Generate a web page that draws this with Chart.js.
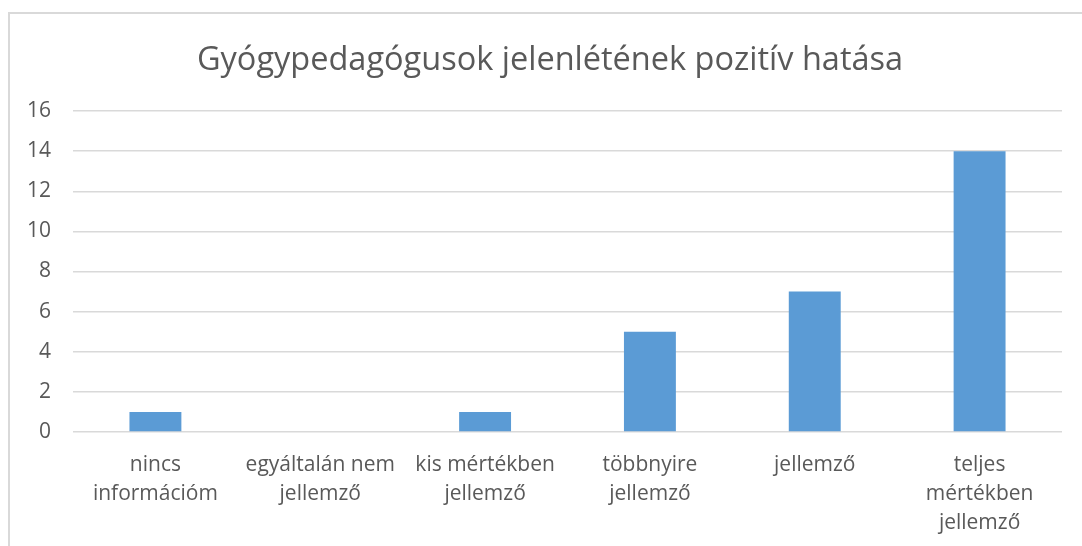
<!DOCTYPE html>
<html>
<head>
<meta charset="utf-8">
<script src="https://cdn.jsdelivr.net/npm/chart.js@4/dist/chart.umd.min.js"></script>
<style>
html,body{margin:0;padding:0;background:#fff;overflow:hidden;}
#frame{position:absolute;left:8px;top:12px;width:1200px;height:700px;border:2px solid #d9d9d9;box-sizing:border-box;}
#wrap{position:absolute;left:0;top:0;width:1082px;height:546px;}
</style>
</head>
<body>
<div id="frame"></div>
<div id="wrap"><canvas id="c" width="1082" height="546"></canvas></div>
<script>
const titleText = "Gyógypedagógusok jelenlétének pozitív hatása";
const categories = [
  ["nincs", "információm"],
  ["egyáltalán nem", "jellemző"],
  ["kis mértékben", "jellemző"],
  ["többnyire", "jellemző"],
  "jellemző",
  ["teljes", "mértékben", "jellemző"]
];
const values = [1, 0, 1, 5, 7, 14];
const yTicks = [0, 2, 4, 6, 8, 10, 12, 14, 16];

const FONT = "'Open Sans', 'Liberation Sans', sans-serif";
const shiftTitle = {
  id: 'shiftTitle',
  afterLayout(chart) {
    const t = chart.titleBlock;
    if (t) { t.left = 38; t.right = 1062; t.width = t.right - t.left; }
  }
};
new Chart(document.getElementById('c'), {
  type: 'bar',
  data: {
    labels: categories,
    datasets: [{
      data: values,
      backgroundColor: '#5B9BD5',
      borderWidth: 0,
      categoryPercentage: 1,
      barPercentage: 0.315
    }]
  },
  plugins: [shiftTitle],
  options: {
    responsive: false,
    animation: false,
    layout: { padding: { left: 0, right: 20, top: 0, bottom: 0 } },
    plugins: {
      legend: { display: false },
      tooltip: { enabled: false },
      title: {
        display: true,
        text: titleText,
        color: '#595959',
        font: { family: FONT, size: 32.5, weight: 'normal', lineHeight: 1.2 },
        padding: { top: 41, bottom: 31 }
      }
    },
    scales: {
      x: {
        grid: { display: false, drawTicks: false },
        border: { display: false },
        ticks: {
          color: '#595959',
          font: { family: FONT, size: 21, lineHeight: 1.4 },
          maxRotation: 0, autoSkip: false, padding: 18
        },
        afterFit: s => { s.height = 114; }
      },
      y: {
        min: 0, max: 16,
        afterBuildTicks: s => { s.ticks = yTicks.map(v => ({ value: v })); },
        grid: { color: '#d9d9d9', lineWidth: 1.5, drawTicks: false },
        border: { display: false },
        ticks: {
          color: '#595959',
          font: { family: FONT, size: 21 },
          padding: 22
        },
        afterFit: s => { s.width = 73; }
      }
    }
  }
});
</script>
</body>
</html>
